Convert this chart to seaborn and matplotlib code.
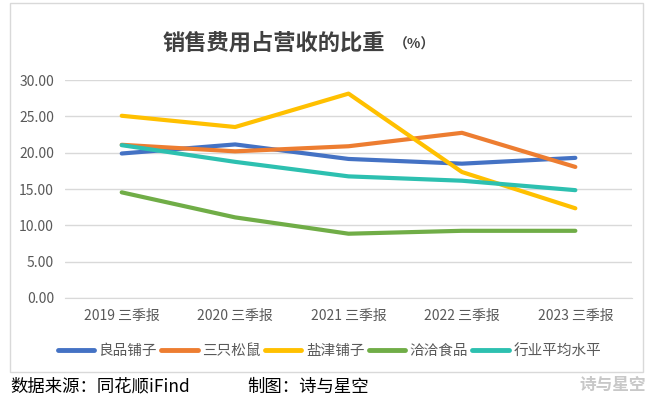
import pandas as pd
import matplotlib.pyplot as plt
import seaborn as sns
from matplotlib.patches import Rectangle

# data
periods = ['2019 三季报', '2020 三季报', '2021 三季报', '2022 三季报', '2023 三季报']
companies = ['良品铺子', '三只松鼠', '盐津铺子', '洽洽食品', '行业平均水平']
liangpin = [19.9, 21.15, 19.15, 18.5, 19.3]
sanzhi = [21.1, 20.2, 20.9, 22.75, 18.05]
yanjin = [25.1, 23.55, 28.15, 17.35, 12.35]
qiaqia = [14.55, 11.1, 8.85, 9.25, 9.25]
industry = [21.05, 18.75, 16.75, 16.15, 14.85]
colors = ['#4472C4', '#ED7D31', '#FFC000', '#70AD47', '#2DC0B0']

sns.set_style('white')
plt.rcParams['font.family'] = ['Noto Sans CJK SC', 'DejaVu Sans']

series = [liangpin, sanzhi, yanjin, qiaqia, industry]
df = pd.DataFrame({
    'period': periods * len(companies),
    'company': [c for c in companies for _ in periods],
    'value': [v for s in series for v in s],
})

fig = plt.figure(figsize=(6.52, 4.01), dpi=100)
ax = fig.add_axes([0.0997, 0.257, 0.8697, 0.543])

sns.lineplot(data=df, x='period', y='value', hue='company', hue_order=companies,
             palette=colors, linewidth=3, ax=ax, sort=False, legend=True)

ax.set_xlim(-0.5, 4.5)
ax.set_ylim(0, 30)
ax.set_yticks([0, 5, 10, 15, 20, 25, 30])
ax.set_yticklabels([f'{v:.2f}' for v in [0, 5, 10, 15, 20, 25, 30]])
ax.yaxis.grid(True, color='#D9D9D9', linewidth=1)
ax.set_axisbelow(True)
for s in ax.spines.values():
    s.set_visible(False)
ax.spines['bottom'].set_visible(True)
ax.spines['bottom'].set_color('#D9D9D9')
ax.tick_params(axis='both', length=0, labelsize=10, colors='#595959', pad=8)
ax.set_xlabel('')
ax.set_ylabel('')

handles, labels = ax.get_legend_handles_labels()
ax.get_legend().remove()
for h in handles:
    h.set_linewidth(3.5)
fig.legend(handles, labels, loc='center', bbox_to_anchor=(0.505, 0.125), ncol=5,
           frameon=False, fontsize=10.5, handlelength=2.5, handletextpad=0.3,
           columnspacing=0.3, labelcolor='#595959')

fig.text(0.42, 0.893, '销售费用占营收的比重', ha='center', va='center',
         fontsize=16, fontweight='bold', color='#404040')
fig.text(0.635, 0.889, '（%）', ha='center', va='center', fontsize=10,
         fontweight='bold', color='#404040')

# outer frame of the chart area
fig.patches.append(Rectangle((0.016, 0.072), 0.97, 0.92, transform=fig.transFigure,
                             fill=False, edgecolor='#D9D9D9', linewidth=1))

fig.text(0.016, 0.035, '数据来源：同花顺iFind', ha='left', va='center',
         fontsize=12.5, color='black')
fig.text(0.38, 0.035, '制图：诗与星空', ha='left', va='center',
         fontsize=12.5, color='black')
fig.text(0.99, 0.04, '诗与星空', ha='right', va='center', fontsize=12,
         color='#C8C8C8', fontweight='bold')

fig.savefig('out.png', dpi=100)
